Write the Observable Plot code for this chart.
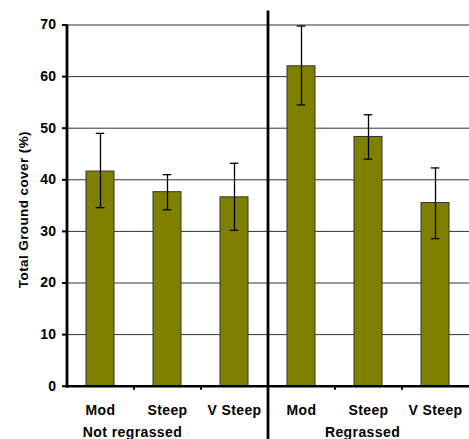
<!DOCTYPE html>
<html>
<head>
<meta charset="utf-8">
<script src="https://cdn.jsdelivr.net/npm/d3@7"></script>
<script src="https://cdn.jsdelivr.net/npm/@observablehq/plot@0.6"></script>
<style>
  html, body { margin: 0; padding: 0; background: #fff; }
  #chart svg { display: block; }
</style>
</head>
<body>
<div id="chart"></div>
<script>
const groups = ["Not regrassed", "Regrassed"];
const categories = ["Mod", "Steep", "V Steep"];
const means   = [41.6, 37.6, 36.6, 62.0, 48.3, 35.5];
const errLow  = [34.6, 34.2, 30.2, 54.5, 44.0, 28.6];
const errHigh = [49.0, 41.0, 43.2, 69.8, 52.6, 42.3];
const yTicks = [0, 10, 20, 30, 40, 50, 60, 70];
const yLabel = "Total Ground cover (%)";

const rows = [];
groups.forEach((g, gi) => categories.forEach((c, ci) => {
  const i = gi * categories.length + ci;
  rows.push({key: g + "|" + c, group: g, category: c, mean: means[i], lo: errLow[i], hi: errHigh[i]});
}));
const keys = rows.map(d => d.key);

const font = "'Liberation Sans', Arial, Helvetica, sans-serif";
const half = 33.5;

const plot = Plot.plot({
  width: 469,
  height: 439,
  marginLeft: 67,
  marginRight: 0,
  marginTop: 24.5,
  marginBottom: 53.3,
  style: {fontFamily: font, fontWeight: "bold", color: "black", background: "white", overflow: "visible", letterSpacing: "0.4px"},
  x: {type: "band", domain: keys, paddingInner: 0.58, paddingOuter: 0.29, axis: null},
  y: {domain: [0, 70], axis: null},
  marks: [
    Plot.ruleY(yTicks.slice(1), {stroke: "#333", strokeWidth: 1}),
    Plot.barY(rows, {x: "key", y: "mean", fill: "#808000", stroke: "#333", strokeWidth: 1}),
    Plot.ruleX(rows, {x: "key", y1: "lo", y2: "hi", stroke: "black", strokeWidth: 1.3}),
    Plot.tickY(rows, {x: "key", y: "lo", stroke: "black", strokeWidth: 1.3, insetLeft: 9.7, insetRight: 9.7}),
    Plot.tickY(rows, {x: "key", y: "hi", stroke: "black", strokeWidth: 1.3, insetLeft: 9.7, insetRight: 9.7}),
    // x axis line
    Plot.ruleY([0], {stroke: "black", strokeWidth: 2.6}),
    // y axis line
    Plot.ruleX([keys[0]], {x: d => d, dx: -half, stroke: "black", strokeWidth: 2.8, insetBottom: -2}),
    // group divider
    Plot.ruleX([keys[3]], {x: d => d, dx: -half, stroke: "black", strokeWidth: 2.8, insetTop: -14, insetBottom: -60}),
    Plot.axisY({ticks: yTicks, tickSize: 5, tickPadding: 6, strokeWidth: 2, fontSize: 14, fontWeight: "bold", label: null, fontFamily: font}),
    // tick marks at category boundaries
    Plot.axisX({ticks: keys.slice(1), tickSize: 4, strokeWidth: 2, dx: -half, tickFormat: () => "", label: null}),
    // category labels
    Plot.text(rows, {x: "key", text: "category", frameAnchor: "bottom", dy: 24, lineAnchor: "middle", fontSize: 14, fontWeight: "bold", fill: "black", fontFamily: font}),
    // group labels
    Plot.text([groups[0]], {x: () => keys[0], text: d => d, frameAnchor: "bottom", dy: 46, dx: 32, lineAnchor: "middle", textAnchor: "middle", fontSize: 14, fontWeight: "bold", fill: "black", fontFamily: font}),
    Plot.text([groups[1]], {x: () => keys[4], text: d => d, frameAnchor: "bottom", dy: 46, dx: -6, lineAnchor: "middle", textAnchor: "middle", fontSize: 14, fontWeight: "bold", fill: "black", fontFamily: font}),
    // y label
    Plot.text([yLabel], {text: d => d, frameAnchor: "left", textAnchor: "middle", rotate: -90, dx: -44, dy: 4, lineAnchor: "middle", fontSize: 13.5, fontWeight: "bold", fill: "black", fontFamily: font})
  ]
});
document.getElementById("chart").appendChild(plot);
</script>
</body>
</html>
